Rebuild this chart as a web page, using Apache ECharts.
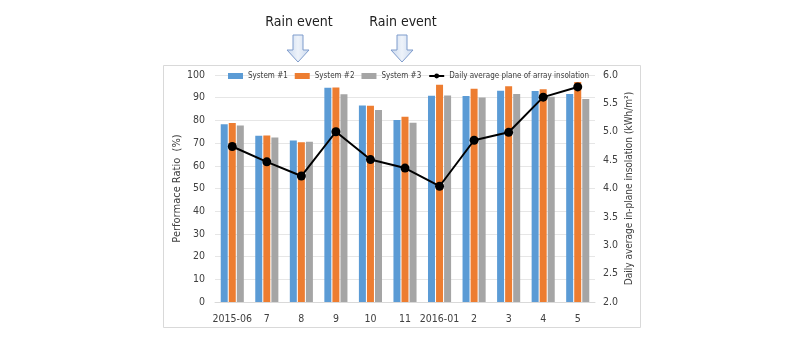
<!DOCTYPE html>
<html>
<head>
<meta charset="utf-8">
<script src="https://cdn.jsdelivr.net/npm/echarts@6/dist/echarts.min.js"></script>
<style>
  html, body { margin: 0; padding: 0; background: #ffffff; }
  #chart { width: 800px; height: 343px; }
</style>
</head>
<body>
<div id="chart"></div>
<script>
// Monthly performance ratio per system and daily average insolation
const months = ['2015-06', '7', '8', '9', '10', '11', '2016-01', '2', '3', '4', '5'];
const system1 = [78.3, 73.2, 71.2, 94.4, 86.6, 80.2, 90.9, 90.7, 93.1, 93.0, 91.6];
const system2 = [78.8, 73.4, 70.4, 94.5, 86.5, 81.6, 95.7, 93.9, 95.0, 93.7, 96.9];
const system3 = [77.8, 72.5, 70.6, 91.5, 84.6, 79.0, 91.0, 90.1, 91.6, 90.4, 89.4];
const insolation = [4.74, 4.47, 4.22, 5.00, 4.51, 4.36, 4.04, 4.85, 4.99, 5.61, 5.79];
const rainEventMonths = ['8', '11'];

const FONT = '"DejaVu Sans Condensed", "Liberation Sans Narrow", "Noto Sans", sans-serif';
const chart = echarts.init(document.getElementById('chart'), null, { renderer: 'canvas' });

const barStyle = (color) => ({
  type: 'bar',
  barWidth: 7,
  barGap: '15%',
  itemStyle: { color: color },
  yAxisIndex: 0
});

const option = {
  animation: false,
  backgroundColor: '#ffffff',
  textStyle: { fontFamily: FONT },
  grid: { left: 215, right: 205, top: 75, bottom: 41 },
  legend: {
    left: 223,
    top: 67,
    itemWidth: 15,
    itemHeight: 6,
    itemGap: 7,
    textStyle: { fontSize: 8, color: '#404040', fontFamily: FONT },
    data: [
      { name: 'System #1', icon: 'rect' },
      { name: 'System #2', icon: 'rect' },
      { name: 'System #3', icon: 'rect' },
      { name: 'Daily average plane of array insolation' }
    ]
  },
  xAxis: {
    type: 'category',
    data: months,
    axisLine: { lineStyle: { color: '#d9d9d9' } },
    axisTick: { show: false },
    axisLabel: { color: '#404040', fontSize: 10.5, margin: 12, interval: 0, fontFamily: FONT }
  },
  yAxis: [
    {
      type: 'value',
      min: 0, max: 100, interval: 10,
      name: 'Performace Ratio  (%)',
      nameLocation: 'middle',
      nameGap: 30,
      nameTextStyle: { color: '#404040', fontSize: 11, fontFamily: FONT },
      axisLine: { show: false },
      axisTick: { show: false },
      axisLabel: { color: '#404040', fontSize: 10.5, margin: 10, fontFamily: FONT },
      splitLine: { lineStyle: { color: '#e6e6e6' } }
    },
    {
      type: 'value',
      min: 2, max: 6, interval: 0.5,
      name: 'Daily average in-plane insolation (kWh/m²)',
      nameLocation: 'middle',
      nameGap: 29,
      nameRotate: 90,
      nameTextStyle: { color: '#404040', fontSize: 10, fontFamily: FONT },
      axisLine: { show: false },
      axisTick: { show: false },
      axisLabel: {
        color: '#404040', fontSize: 10.5, margin: 8, fontFamily: FONT,
        formatter: (v) => v.toFixed(1)
      },
      splitLine: { show: false }
    }
  ],
  series: [
    Object.assign({ name: 'System #1', data: system1 }, barStyle('#5b9bd5')),
    Object.assign({ name: 'System #2', data: system2 }, barStyle('#ed7d31')),
    Object.assign({ name: 'System #3', data: system3 }, barStyle('#a5a5a5')),
    {
      name: 'Daily average plane of array insolation',
      type: 'line',
      yAxisIndex: 1,
      data: insolation,
      symbol: 'circle',
      symbolSize: 9,
      itemStyle: { color: '#000000' },
      lineStyle: { color: '#000000', width: 2 },
      z: 5
    }
  ]
};
chart.setOption(option);

// Chart frame, rain-event captions and down arrows
function downArrow(cx, top) {
  const sw = 5, hw = 11, shaftEnd = top + 15, tip = top + 27;
  return {
    type: 'polygon',
    shape: {
      points: [
        [cx - sw, top], [cx + sw, top], [cx + sw, shaftEnd], [cx + hw, shaftEnd],
        [cx, tip], [cx - hw, shaftEnd], [cx - sw, shaftEnd]
      ]
    },
    style: {
      fill: new echarts.graphic.LinearGradient(0, 0, 1, 0, [
        { offset: 0, color: '#c9d8ee' }, { offset: 0.5, color: '#eef3fa' }, { offset: 1, color: '#c9d8ee' }
      ]),
      stroke: '#7f9ccc',
      lineWidth: 1
    },
    z: 10
  };
}

const elements = [
  {
    type: 'rect',
    shape: { x: 163.5, y: 65.5, width: 477, height: 262 },
    style: { fill: 'none', stroke: '#d9d9d9', lineWidth: 1 },
    z: -1,
    silent: true
  }
];
rainEventMonths.forEach((m) => {
  const cx = Math.round(chart.convertToPixel({ xAxisIndex: 0 }, m)) - 3;
  elements.push({
    type: 'text',
    x: cx + 1, y: 22,
    style: {
      text: 'Rain event', fill: '#222222', fontSize: 14,
      fontFamily: FONT, align: 'center', verticalAlign: 'middle'
    },
    z: 10
  });
  elements.push(downArrow(cx, 35));
});
chart.setOption({ graphic: { elements: elements } });
</script>
</body>
</html>
